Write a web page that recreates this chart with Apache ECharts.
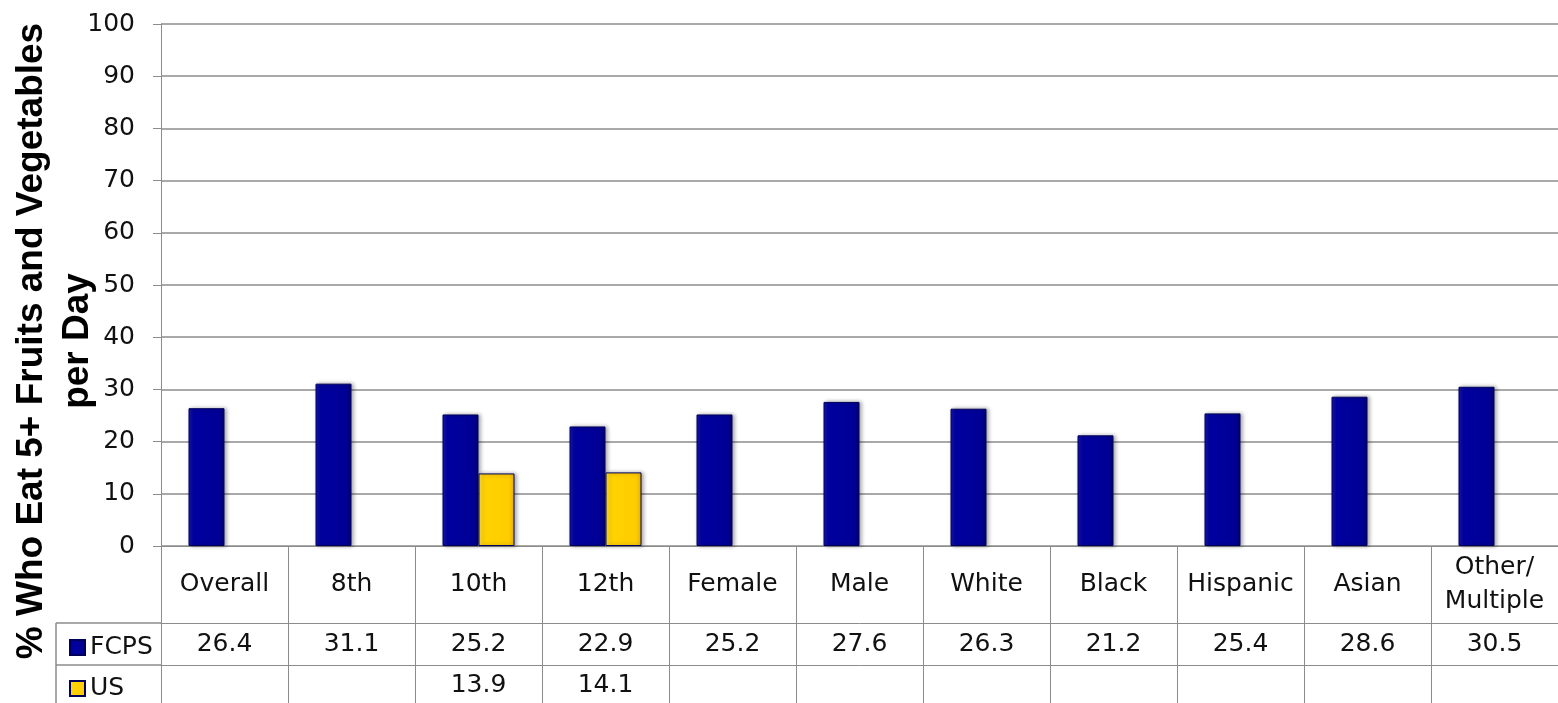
<!DOCTYPE html>
<html>
<head>
<meta charset="utf-8">
<script src="https://cdn.jsdelivr.net/npm/echarts@6/dist/echarts.min.js"></script>
<style>
  html, body { margin: 0; padding: 0; background: #fff; }
  #chart { width: 1558px; height: 703px; }
</style>
</head>
<body>
<div id="chart"></div>
<script>
var categories = ['Overall', '8th', '10th', '12th', 'Female', 'Male', 'White', 'Black', 'Hispanic', 'Asian', 'Other/\nMultiple']
var fcpsValues = [26.4, 31.1, 25.2, 22.9, 25.2, 27.6, 26.3, 21.2, 25.4, 28.6, 30.5]
var usValues = [null, null, 13.9, 14.1, null, null, null, null, null, null, null]
var yTicks = { min: 0, max: 100, interval: 10 }

var myChart = echarts.init(document.getElementById('chart'))

var font = 'DejaVu Sans'
var lineColor = '#8c8c8c'

function fmt(v) {
  return v == null ? '' : v.toFixed(1)
}

// one legend per table row so each key sits in its own row
function rowLegend(name, top) {
  return {
    orient: 'vertical',
    left: 64,
    top: top,
    itemWidth: 15,
    itemHeight: 15,
    icon: 'rect',
    textStyle: { fontSize: 25, color: '#111', fontFamily: font },
    data: [name]
  }
}

var option = {
  animation: false,
  textStyle: { fontFamily: font },
  grid: { left: 161, right: 0, top: 24, bottom: 157 },
  legend: [rowLegend('FCPS', 630), rowLegend('US', 671)],
  xAxis: [
    {
      type: 'category',
      data: categories,
      axisLine: { show: true, lineStyle: { color: lineColor } },
      axisTick: { show: true, interval: 0, length: 170, lineStyle: { color: lineColor } },
      axisLabel: {
        interval: 0,
        fontSize: 25,
        color: '#111',
        margin: 38,
        verticalAlign: 'middle',
        lineHeight: 34
      }
    },
    {
      type: 'category',
      data: fcpsValues.map(fmt),
      position: 'bottom',
      offset: 77,
      axisLine: { show: true, lineStyle: { color: lineColor } },
      axisTick: { show: false },
      axisLabel: { interval: 0, fontSize: 25, color: '#111', margin: 21, verticalAlign: 'middle' }
    },
    {
      type: 'category',
      data: usValues.map(fmt),
      position: 'bottom',
      offset: 119,
      axisLine: { show: true, lineStyle: { color: lineColor } },
      axisTick: { show: false },
      axisLabel: { interval: 0, fontSize: 25, color: '#111', margin: 20, verticalAlign: 'middle' }
    }
  ],
  yAxis: {
    type: 'value',
    min: yTicks.min,
    max: yTicks.max,
    interval: yTicks.interval,
    axisLine: { show: true, lineStyle: { color: lineColor } },
    axisTick: { show: true, length: 8, lineStyle: { color: lineColor } },
    axisLabel: { fontSize: 25, color: '#111', margin: 26 },
    splitLine: { show: true, lineStyle: { color: lineColor, width: 1.5 } }
  },
  graphic: [
    {
      type: 'text',
      x: 55,
      y: 341,
      rotation: Math.PI / 2,
      style: {
        text: '% Who Eat 5+ Fruits and Vegetables\nper Day',
        font: 'bold 37px "Liberation Sans", Arial, sans-serif',
        fill: '#000',
        align: 'center',
        verticalAlign: 'middle',
        lineHeight: 46
      }
    },
    { type: 'line', shape: { x1: 56, y1: 623, x2: 161, y2: 623 }, style: { stroke: lineColor, lineWidth: 1.5 } },
    { type: 'line', shape: { x1: 56, y1: 665, x2: 161, y2: 665 }, style: { stroke: lineColor, lineWidth: 1.5 } },
    { type: 'line', shape: { x1: 56, y1: 623, x2: 56, y2: 703 }, style: { stroke: lineColor, lineWidth: 1.5 } }
  ],
  series: [
    {
      name: 'FCPS',
      type: 'bar',
      data: fcpsValues,
      barWidth: 36,
      barGap: '0%',
      itemStyle: {
        borderColor: '#00005a',
        borderWidth: 1,
        shadowColor: 'rgba(0,0,0,0.35)',
        shadowBlur: 4,
        shadowOffsetX: 2,
        color: new echarts.graphic.LinearGradient(0, 0, 1, 0, [
          { offset: 0, color: '#1616b0' },
          { offset: 0.15, color: '#0000a0' },
          { offset: 0.85, color: '#000096' },
          { offset: 1, color: '#000070' }
        ])
      }
    },
    {
      name: 'US',
      type: 'bar',
      data: usValues,
      barWidth: 36,
      barGap: '0%',
      itemStyle: {
        borderColor: '#00005a',
        borderWidth: 1,
        shadowColor: 'rgba(0,0,0,0.35)',
        shadowBlur: 4,
        shadowOffsetX: 2,
        color: new echarts.graphic.LinearGradient(0, 0, 1, 0, [
          { offset: 0, color: '#ffe040' },
          { offset: 0.15, color: '#ffd200' },
          { offset: 0.85, color: '#ffcc00' },
          { offset: 1, color: '#e8b400' }
        ])
      }
    }
  ]
}

myChart.setOption(option)
</script>
</body>
</html>
